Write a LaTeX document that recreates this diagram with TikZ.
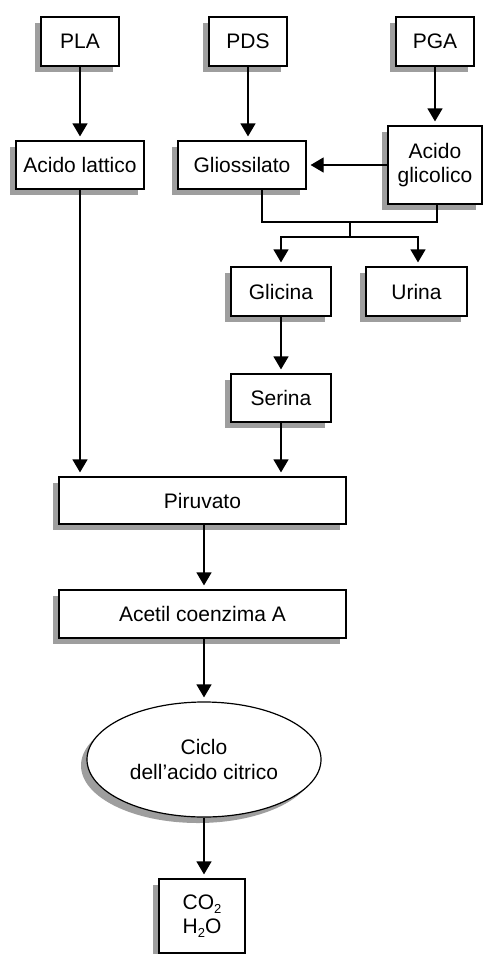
\documentclass[tikz,border=0pt]{standalone}
\usepackage{fontspec}
\setmainfont{Liberation Sans}
\usetikzlibrary{shadows,arrows.meta,shapes.geometric}
\begin{document}
\begin{tikzpicture}[x=1pt,y=-1pt,
  box/.style={draw, fill=white, line width=1.2pt, inner sep=0pt, align=center,
    font=\fontsize{21}{24.5}\selectfont,
    drop shadow={shadow xshift=-6pt, shadow yshift=-6pt, fill=black!38, opacity=1}},
  arr/.style={-{Triangle[length=13pt,width=15pt]}, line width=1.2pt, shorten >=4pt},
  ln/.style={line width=1.2pt}]
\useasboundingbox (0,0) rectangle (483,954);
\node[box, minimum width=78pt, minimum height=49pt] (pla) at (80,41.5) {PLA};
\node[box, minimum width=78pt, minimum height=49pt] (pds) at (248,41.5) {PDS};
\node[box, minimum width=78pt, minimum height=49pt] (pga) at (435,41.5) {PGA};
\node[box, minimum width=128pt, minimum height=48pt] (lat) at (80,165) {Acido lattico};
\node[box, minimum width=128pt, minimum height=48pt] (gli) at (242,165) {Gliossilato};
\node[box, minimum width=94pt, minimum height=78pt] (acg) at (435,165) {Acido\\glicolico};
\node[box, minimum width=100pt, minimum height=49pt] (glc) at (281,291.5) {Glicina};
\node[box, minimum width=101pt, minimum height=49pt] (uri) at (416.5,291.5) {Urina};
\node[box, minimum width=100pt, minimum height=48pt] (ser) at (281,398) {Serina};
\node[box, minimum width=287pt, minimum height=47pt] (pir) at (202.5,500.5) {Piruvato};
\node[box, minimum width=287pt, minimum height=48pt] (ace) at (202.5,614) {Acetil coenzima A};
\node[box, ellipse, minimum width=234pt, minimum height=115pt] (cic) at (204,759.5) {Ciclo\\dell’acido citrico};
\node[box, minimum width=86pt, minimum height=74pt] (co) at (202,916)
  {CO\raisebox{-0.35ex}{\fontsize{13}{13}\selectfont 2}\\H\raisebox{-0.35ex}{\fontsize{13}{13}\selectfont 2}O};

\coordinate (j1) at (262,222);
\coordinate (j2) at (437,222);
\coordinate (m1) at (350,222);
\coordinate (m2) at (350,237);

\draw[arr] (pla.south) -- (pla.south |- lat.north);
\draw[arr] (pds.south) -- (pds.south |- gli.north);
\draw[arr] (pga.south) -- (pga.south |- acg.north);
\draw[arr] (acg.west) -- (gli.east);
\draw[ln] (gli.south -| j1) -- (j1) -- (j2) -- (acg.south -| j2);
\draw[ln] (m1) -- (m2);
\draw[arr] (m2) -| (glc.north);
\draw[arr] (m2) -| ([xshift=1.5pt]uri.north);
\draw[arr] (glc.south) -- (ser.north);
\draw[arr] (lat.south) -- (lat.south |- pir.north);
\draw[arr] (ser.south) -- (ser.south |- pir.north);
\draw[arr] ([xshift=1.5pt]pir.south) -- ([xshift=1.5pt]ace.north);
\draw[arr] ([xshift=1.5pt]ace.south) -- (cic.north);
\draw[arr] (cic.south) -- (cic.south |- co.north);
\end{tikzpicture}
\end{document}
